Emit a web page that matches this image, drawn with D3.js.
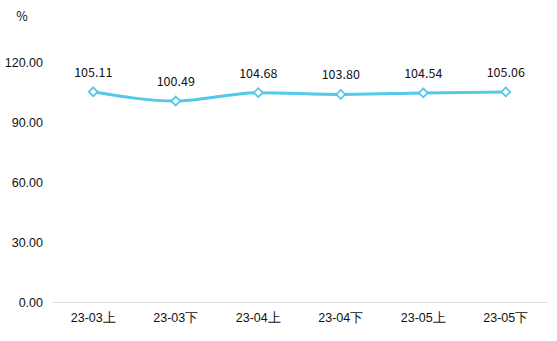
<!DOCTYPE html>
<html>
<head>
<meta charset="utf-8">
<script src="https://cdn.jsdelivr.net/npm/d3@7/dist/d3.min.js"></script>
<style>
  html, body { margin: 0; padding: 0; background: #fff; }
  svg { display: block; font-family: "Microsoft YaHei", "Noto Sans CJK SC", sans-serif; }
</style>
</head>
<body>
<svg id="chart" width="557" height="341"></svg>
<script>
const categories = ["23-03上", "23-03下", "23-04上", "23-04下", "23-05上", "23-05下"];
const values = [105.11, 100.49, 104.68, 103.80, 104.54, 105.06];
const yTicks = [0, 30, 60, 90, 120];
const unitLabel = "%";

const W = 557, H = 341;
const margin = { top: 62, right: 10, bottom: 39, left: 52 };
const lineColor = "#52c8ea";
const textColor = "#111";
const fontSize = 12.5;

const svg = d3.select("#chart");

const x = d3.scaleBand()
  .domain(categories)
  .range([margin.left, W - margin.right]);

const y = d3.scaleLinear()
  .domain([0, 120])
  .range([H - margin.bottom, margin.top]);

// unit label
svg.append("text")
  .attr("x", 22).attr("y", 21)
  .attr("text-anchor", "middle")
  .attr("font-size", fontSize).attr("fill", textColor)
  .text(unitLabel);

// y axis labels (no line, no ticks)
const yAxis = d3.axisLeft(y)
  .tickValues(yTicks)
  .tickFormat(d3.format(".2f"))
  .tickSize(0)
  .tickPadding(9);
const gy = svg.append("g")
  .attr("transform", `translate(${margin.left},0)`)
  .call(yAxis);
gy.select(".domain").remove();
gy.selectAll("text").attr("font-size", fontSize).attr("fill", textColor)
  .style("font-family", "inherit");

// x axis
const xAxis = d3.axisBottom(x).tickSize(0).tickPadding(11);
const gx = svg.append("g")
  .attr("transform", `translate(0,${y(0)})`)
  .call(xAxis);
gx.select(".domain").attr("stroke", "#dcdcdc").attr("stroke-width", 1);
gx.selectAll("text").attr("font-size", fontSize).attr("fill", textColor)
  .style("font-family", "inherit");

const cx = d => x(d) + x.bandwidth() / 2;

// smoothed line
const line = d3.line()
  .x((d, i) => cx(categories[i]))
  .y(d => y(d))
  .curve(d3.curveMonotoneX);

svg.append("path")
  .datum(values)
  .attr("d", line)
  .attr("fill", "none")
  .attr("stroke", lineColor)
  .attr("stroke-width", 3)
  .attr("stroke-linejoin", "round");

// hollow diamond markers
const diamond = d3.symbol().type(d3.symbolDiamond2).size(50);
svg.append("g").selectAll("path")
  .data(values)
  .join("path")
  .attr("d", diamond)
  .attr("transform", (d, i) => `translate(${cx(categories[i])},${y(d)})`)
  .attr("fill", "#fff")
  .attr("stroke", lineColor)
  .attr("stroke-width", 1.8);

// value labels
svg.append("g").selectAll("text")
  .data(values)
  .join("text")
  .attr("x", (d, i) => cx(categories[i]))
  .attr("y", d => y(d) - 15)
  .attr("text-anchor", "middle")
  .attr("font-size", fontSize)
  .attr("fill", textColor)
  .text(d => d.toFixed(2));
</script>
</body>
</html>
